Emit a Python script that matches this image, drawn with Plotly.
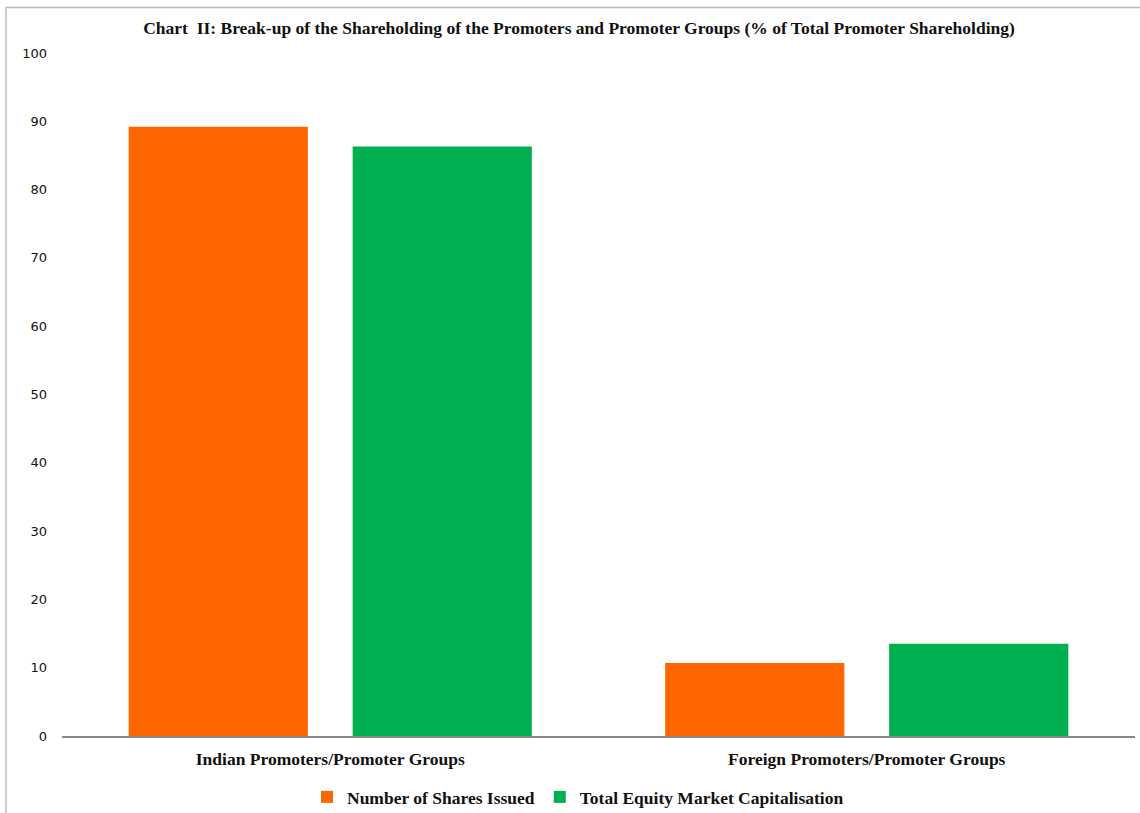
import plotly.graph_objects as go

categories = ["Indian Promoters/Promoter Groups", "Foreign Promoters/Promoter Groups"]
shares_issued = [89.2, 10.7]
market_cap = [86.3, 13.5]
series_names = ["Number of Shares Issued", "Total Equity Market Capitalisation"]
y_ticks = [0, 10, 20, 30, 40, 50, 60, 70, 80, 90, 100]

serif = "Liberation Serif"
sans = "DejaVu Sans"

fig = go.Figure()
fig.add_trace(go.Bar(x=categories, y=shares_issued, name="<b>" + series_names[0] + "</b>",
                     marker=dict(color="#FF6600", line=dict(width=0))))
fig.add_trace(go.Bar(x=categories, y=market_cap, name="<b>" + series_names[1] + "</b>",
                     marker=dict(color="#00B050", line=dict(width=0))))

L, R, T, B = 62, 5, 52.5, 76.5
W, H = 1140, 813
pw = W - L - R
ph = H - T - B

fig.update_layout(
    width=W, height=H,
    margin=dict(l=L, r=R, t=T, b=B, pad=0, autoexpand=False),
    paper_bgcolor="white", plot_bgcolor="white",
    barmode="group", bargap=0.165, bargroupgap=0.2,
    title=dict(text="<b>Chart  II: Break-up of the Shareholding of the Promoters and Promoter Groups (% of Total Promoter Shareholding)</b>",
               x=579 / W, xanchor="center", y=1 - 28 / H, yanchor="middle",
               font=dict(family=serif, size=17.5, color="#111")),
    xaxis=dict(showline=True, linecolor="#888888", linewidth=2, showgrid=False,
               ticks="", ticklabelstandoff=6,
               tickfont=dict(family=serif, size=17.5, color="#111"),
               tickprefix="<b>", ticksuffix="</b>"),
    yaxis=dict(range=[0, 100], tickvals=y_ticks, showgrid=False, showline=False,
               zeroline=False, ticks="", ticklabelstandoff=14,
               tickfont=dict(family=sans, size=13, color="#111")),
    legend=dict(orientation="h", xref="container", x=578 / W, xanchor="center",
                yref="container", y=1 - 797 / H, yanchor="middle",
                font=dict(family=serif, size=17.5, color="#111"),
                itemwidth=30, tracegroupgap=0),
    showlegend=True,
)

# outer chart border (left and top visible)
x0 = (6 - L) / pw
y1 = 1 + (T - 7) / ph
fig.add_shape(type="rect", xref="paper", yref="paper",
              x0=x0, x1=1.2, y0=-0.5, y1=y1,
              line=dict(color="#BBBBBB", width=1.5), fillcolor="rgba(0,0,0,0)", layer="below")

fig.write_html("out.html")
